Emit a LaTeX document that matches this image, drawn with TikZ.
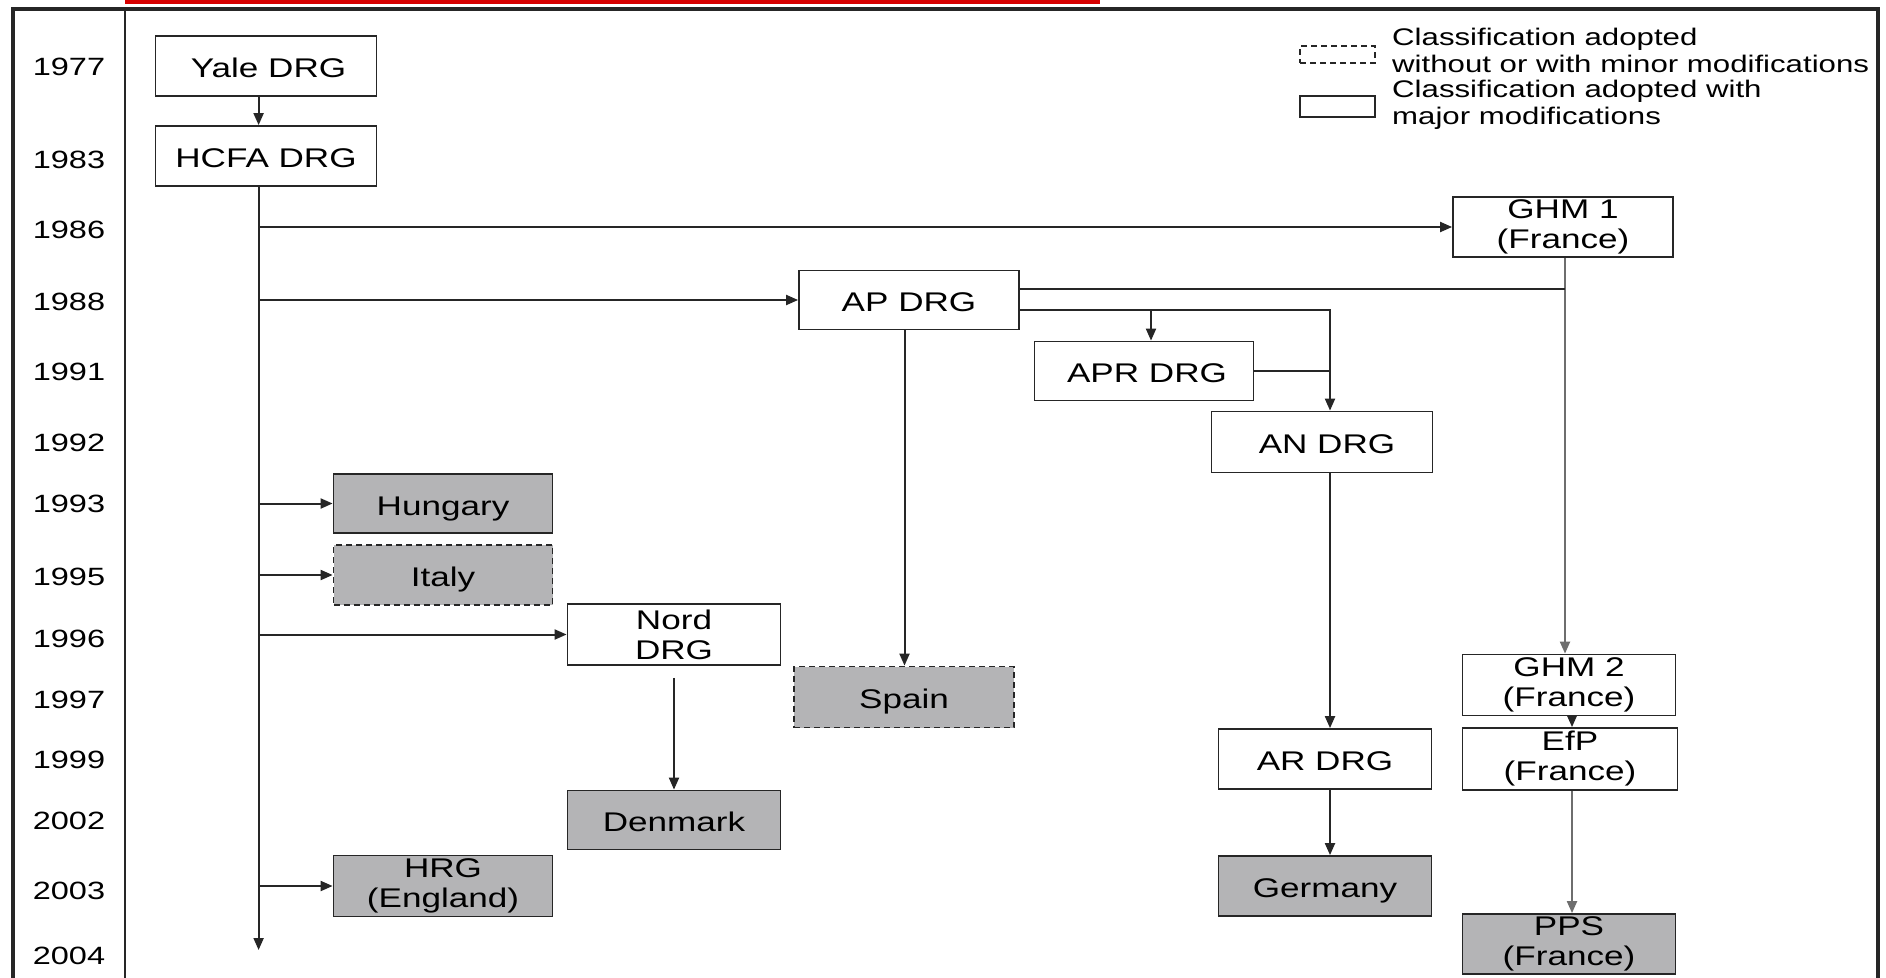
\documentclass[tikz,border=0pt]{standalone}
\usepackage{fontspec}
\setmainfont[FakeStretch=1.3]{Liberation Sans}
\usetikzlibrary{arrows.meta}
\definecolor{boxgray}{RGB}{180,180,182}
\definecolor{hired}{RGB}{215,0,0}
\definecolor{linegray}{RGB}{110,110,110}
\newcommand\bxfnt{\fontsize{27}{30}\selectfont}
\newcommand\yrfnt{\fontsize{25}{30}\selectfont}
\newcommand\lgfnt{\fontsize{24}{26.5}\selectfont}
\begin{document}
\begin{tikzpicture}[x=1pt,y=-1pt,
  box/.style={draw=black!85, line width=1.8pt, inner sep=0pt, align=center, font=\bxfnt},
  wbox/.style={box, fill=white},
  gbox/.style={box, fill=boxgray},
  dbox/.style={box, fill=boxgray, dash pattern=on 6pt off 4pt},
  one/.style={text height=23pt, text depth=0pt},
  sz/.style 2 args={minimum width=#1pt, minimum height=#2pt},
  con/.style={draw=black!85, line width=2pt},
  gcon/.style={draw=linegray, line width=2pt},
  arr/.style={-{Triangle[length=12pt,width=10pt]}},
  yr/.style={font=\yrfnt, inner sep=0pt, anchor=center},
  lg/.style={font=\lgfnt, inner sep=0pt, anchor=west, align=left}]
\useasboundingbox (0,0) rectangle (1886,977);
% frame
\fill[white] (0,0) rectangle (1886,977);
\fill[hired] (125,0) rectangle (1100,4);
\draw[line width=4pt, black!85] (13,985) -- (13,9) -- (1878,9) -- (1878,985);
\draw[line width=2pt, black!85] (125,9) -- (125,985);
% years
\node[yr] (y1977) at (69,67) {1977};
\node[yr] (y1983) at (69,160) {1983};
\node[yr] (y1986) at (69,229.5) {1986};
\node[yr] (y1988) at (69,301.7) {1988};
\node[yr] (y1991) at (69,371.5) {1991};
\node[yr] (y1992) at (69,442.4) {1992};
\node[yr] (y1993) at (69,503.8) {1993};
\node[yr] (y1995) at (69,577) {1995};
\node[yr] (y1996) at (69,638.5) {1996};
\node[yr] (y1997) at (69,699.8) {1997};
\node[yr] (y1999) at (69,760) {1999};
\node[yr] (y2002) at (69,821.3) {2002};
\node[yr] (y2003) at (69,891) {2003};
\node[yr] (y2004) at (69,956) {2004};
% legend
\node[box, fill=white, dash pattern=on 6pt off 4pt, line width=1.5pt, sz={75}{17}] (ldash) at (1337.5,54.5) {};
\node[box, fill=white, line width=1.5pt, sz={75}{21}] (lsolid) at (1337.5,106.5) {};
\node[lg] (ltext1) at (1392,50.5) {Classification adopted\\without or with minor modifications};
\node[lg] (ltext2) at (1392,105) {Classification adopted with\\major modifications};
% coordinates for vertical lines
\coordinate (mainx) at (258.6,0);
\coordinate (ghmx) at (1565,0);
\coordinate (anx) at (1330,0);
\coordinate (aprx) at (1151,0);
\coordinate (spx) at (904.5,0);
\coordinate (efx) at (1572,0);
\coordinate (mainend) at (258.6,950);
% boxes
\node[wbox, one, sz={221}{60}] (yale) at (266,66) {\hspace*{5pt}Yale DRG};
\node[wbox, one, sz={221}{60}] (hcfa) at (266,156) {HCFA DRG};
\node[wbox, sz={220}{60}] (ghm1) at (1563,227) {GHM 1\\(France)};
\node[wbox, one, sz={220}{59}] (ap) at (909,300) {AP DRG};
\node[wbox, one, sz={219}{59}] (apr) at (1144,371) {\hspace*{6pt}APR DRG};
\node[wbox, one, sz={221}{61}] (an) at (1322,442) {\hspace*{10pt}AN DRG};
\node[gbox, one, sz={219}{59}] (hung) at (443,503.5) {Hungary};
\node[dbox, one, sz={219}{60}] (italy) at (443,575) {Italy};
\node[wbox, sz={213}{61}] (nord) at (674,634.5) {Nord\\DRG};
\node[dbox, one, sz={220}{61}] (spain) at (904,697) {Spain};
\node[wbox, sz={213}{61}] (ghm2) at (1569,685) {GHM 2\\(France)};
\node[wbox, one, sz={213}{60}] (ar) at (1325,759) {AR DRG};
\node[wbox, sz={215}{62}] (efp) at (1570,759) {EfP\\(France)};
\node[gbox, one, sz={213}{59}] (den) at (674,820) {Denmark};
\node[gbox, sz={219}{61}] (hrg) at (443,886) {HRG\\(England)};
\node[gbox, one, sz={213}{60}] (ger) at (1325,886) {Germany};
\node[gbox, sz={213}{60}] (pps) at (1569,944) {PPS\\(France)};
% connectors
\draw[con, arr] (yale.south -| mainx) -- (hcfa.north -| mainx);
\draw[con, arr] (hcfa.south -| mainx) -- (mainend);
\draw[con, arr] (mainx |- ghm1.west) -- (ghm1.west);
\draw[con, arr] (mainx |- ap.west) -- (ap.west);
\draw[con, arr] (mainx |- hung.west) -- (hung.west);
\draw[con, arr] (mainx |- italy.west) -- (italy.west);
\draw[con, arr] (mainx |- nord.west) -- (nord.west);
\draw[con, arr] (mainx |- hrg.west) -- (hrg.west);
\draw[gcon, arr] (ghm1.south -| ghmx) -- (ghm2.north -| ghmx);
\draw[con] ([yshift=11.5pt]ap.east) -- ([yshift=11.5pt]ap.east -| ghmx);
\draw[con, arr] ([yshift=-10pt]ap.east) -- ([yshift=-10pt]ap.east -| anx) -- (an.north -| anx);
\draw[con, arr] ([yshift=-10pt]ap.east -| aprx) -- (apr.north -| aprx);
\draw[con] (apr.east) -- (apr.east -| anx);
\draw[con, arr] (an.south -| anx) -- (ar.north -| anx);
\draw[con, arr] (ar.south -| anx) -- (ger.north -| anx);
\draw[con, arr] (ap.south -| spx) -- (spain.north -| spx);
\draw[con, arr] ([yshift=-12pt]nord.south) -- (den.north);
\draw[con, arr] (ghm2.south -| efx) -- (efp.north -| efx);
\draw[gcon, arr] (efp.south -| efx) -- (pps.north -| efx);
\end{tikzpicture}
\end{document}
